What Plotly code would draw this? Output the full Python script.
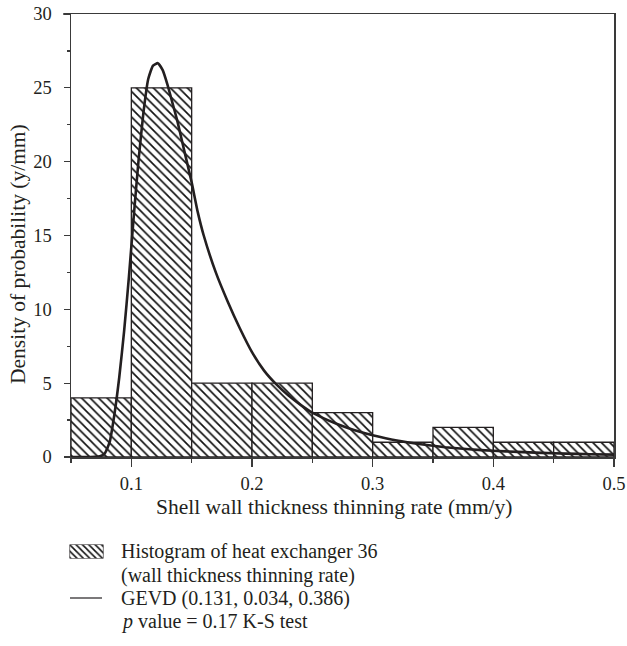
import plotly.graph_objects as go

# ---------------- data ----------------
bin_left = [0.05, 0.10, 0.15, 0.20, 0.25, 0.30, 0.35, 0.40, 0.45]
bin_width = 0.05
hist_density = [4, 25, 5, 5, 3, 1, 2, 1, 1]

curve_x = [0.050, 0.066, 0.070, 0.074, 0.078, 0.082, 0.086, 0.090, 0.094, 0.098,
           0.102, 0.106, 0.110, 0.114, 0.118, 0.122, 0.126, 0.130, 0.134, 0.138,
           0.142, 0.146, 0.150, 0.155, 0.160, 0.170, 0.180, 0.190, 0.200, 0.210,
           0.220, 0.230, 0.240, 0.250, 0.260, 0.270, 0.280, 0.290, 0.300, 0.320,
           0.340, 0.360, 0.380, 0.400, 0.420, 0.440, 0.460, 0.480, 0.500]
curve_y = [0.0, 0.0, 0.01, 0.05, 0.25, 1.0, 2.9, 5.4, 8.5, 12.2,
           16.3, 20.1, 23.3, 25.6, 26.5, 26.67, 26.2, 25.2, 24.0, 22.8,
           21.4, 20.0, 18.6, 16.6, 15.0, 12.5, 10.5, 8.7, 7.1, 5.85,
           4.93, 4.18, 3.55, 3.0, 2.6, 2.25, 1.95, 1.7, 1.48, 1.12,
           0.86, 0.66, 0.52, 0.42, 0.35, 0.28, 0.23, 0.19, 0.16]

x_tickvals = [0.1, 0.2, 0.3, 0.4, 0.5]
x_ticktext = ["0.1", "0.2", "0.3", "0.4", "0.5"]
y_tickvals = [0, 5, 10, 15, 20, 25, 30]
y_ticktext = ["0", "5", "10", "15", "20", "25", "30"]

x_title = "Shell wall thickness thinning rate (mm/y)"
y_title = "Density of probability (y/mm)"
legend_lines = ["Histogram of heat exchanger 36",
                "(wall thickness thinning rate)",
                "GEVD (0.131, 0.034, 0.386)",
                "<i>p</i> value = 0.17 K-S test"]
legend_swatch = [1]

# ---------------- layout helpers ----------------
W, H = 627, 646
def px(x):
    return x / W
def py(y):
    return 1 - y / H

INK = "#231f20"
AX = "#3a3a3a"
FONT = "Liberation Serif"

fig = go.Figure()

fig.add_trace(go.Bar(
    x=bin_left, y=hist_density, width=bin_width, offset=0,
    marker=dict(color="white",
                line=dict(color=INK, width=1.3),
                pattern=dict(shape="\\", fgcolor="#111111", bgcolor="white",
                             size=6, solidity=0.28)),
    showlegend=False, xaxis="x", yaxis="y",
))

fig.add_trace(go.Scatter(
    x=curve_x, y=curve_y, mode="lines",
    line=dict(color=INK, width=2.6, shape="spline", smoothing=0.5),
    showlegend=False, xaxis="x", yaxis="y",
))

# legend swatch (patterned box) in an inset axis
fig.add_trace(go.Bar(
    x=[0.5], y=legend_swatch, width=1,
    marker=dict(color="white",
                line=dict(color=INK, width=1.2),
                pattern=dict(shape="\\", fgcolor="#111111", bgcolor="white",
                             size=4.5, solidity=0.35)),
    showlegend=False, xaxis="x2", yaxis="y2",
))

fig.update_layout(
    template="none",
    width=W, height=H, autosize=False,
    margin=dict(l=0, r=0, t=0, b=0, pad=0),
    paper_bgcolor="white", plot_bgcolor="white",
    font=dict(family=FONT, color=INK, size=18),
    bargap=0,
    xaxis=dict(
        domain=[px(71), px(614)], anchor="y", automargin=False,
        range=[0.05, 0.5], tickvals=x_tickvals, ticktext=x_ticktext,
        ticks="outside", ticklen=8, tickwidth=1.3, tickcolor=AX,
        minor=dict(ticks="outside", ticklen=4, tickwidth=1.3, tickcolor=AX,
                   tickvals=[0.05, 0.15, 0.25, 0.35, 0.45]),
        showline=True, linecolor=AX, linewidth=1.5, mirror=True,
        showgrid=False, zeroline=False,
        tickfont=dict(family=FONT, size=18.5, color=INK),
        ticklabelstandoff=1,
    ),
    yaxis=dict(
        domain=[py(457), py(14)], anchor="x", automargin=False,
        range=[0, 30], tickvals=y_tickvals, ticktext=y_ticktext,
        ticks="outside", ticklen=6, tickwidth=1.3, tickcolor=AX,
        minor=dict(ticks="outside", ticklen=3, tickwidth=1.3, tickcolor=AX,
                   tickvals=[2.5, 7.5, 12.5, 17.5, 22.5, 27.5]),
        showline=True, linecolor=AX, linewidth=1.5, mirror=True,
        showgrid=False, zeroline=False,
        tickfont=dict(family=FONT, size=18.5, color=INK),
        ticklabelstandoff=8,
    ),
    xaxis2=dict(domain=[px(69.5), px(103.5)], anchor="y2", range=[0, 1],
                visible=False, fixedrange=True, automargin=False),
    yaxis2=dict(domain=[py(558.5), py(544.5)], anchor="x2", range=[0, 1],
                visible=False, fixedrange=True, automargin=False),
    shapes=[
        dict(type="line", xref="paper", yref="paper",
             x0=px(63), x1=px(71), y0=py(14), y1=py(14),
             line=dict(color=AX, width=1.5)),
        dict(type="line", xref="paper", yref="paper",
             x0=px(70), x1=px(102), y0=py(598), y1=py(598),
             line=dict(color=INK, width=1.2)),
    ],
    annotations=[
        dict(text=x_title, xref="paper", yref="paper", x=px(334), y=py(507),
             xanchor="center", yanchor="middle", showarrow=False,
             font=dict(family=FONT, size=21.5, color=INK)),
        dict(text=y_title, xref="paper", yref="paper", x=px(18), y=py(254),
             xanchor="center", yanchor="middle", showarrow=False, textangle=-90,
             font=dict(family=FONT, size=21.5, color=INK)),
    ] + [
        dict(text=t, xref="paper", yref="paper", x=px(119), y=py(yy),
             xanchor="left", yanchor="middle", showarrow=False,
             font=dict(family=FONT, size=20, color=INK))
        for t, yy in zip(legend_lines, [551.5, 575, 598, 621.5])
    ],
)

fig.write_html("out.html",
               config={"displayModeBar": False, "staticPlot": True},
               post_script="document.body.style.margin='0';document.body.style.overflow='hidden';")
